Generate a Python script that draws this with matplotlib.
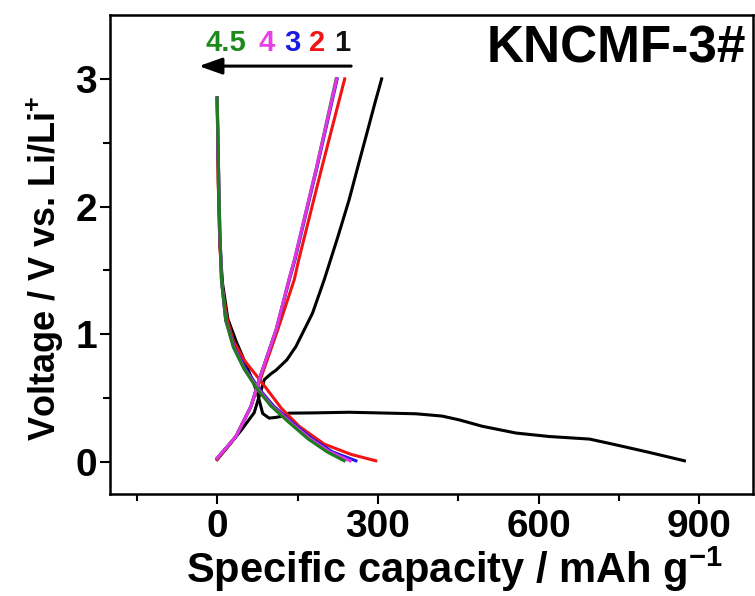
import matplotlib
matplotlib.use("Agg")
import matplotlib.pyplot as plt

plt.rcParams['font.family'] = ['Liberation Sans', 'DejaVu Sans']
plt.rcParams['font.weight'] = 'bold'
plt.rcParams['mathtext.fontset'] = 'custom'
plt.rcParams['mathtext.rm'] = 'Liberation Sans:bold'
plt.rcParams['mathtext.bf'] = 'Liberation Sans:bold'
plt.rcParams['mathtext.it'] = 'Liberation Sans:bold'
plt.rcParams['mathtext.default'] = 'bf'

# ---- data (capacity mAh/g, voltage V) ----
c1_dis_x = [0, 2, 5, 10, 20, 35, 50, 65, 75, 85, 97, 110, 122, 134, 180, 246, 300, 371, 420, 452, 495, 558, 620, 695, 744, 807, 872]
c1_dis_y = [2.85, 2.2, 1.7, 1.4, 1.12, 0.95, 0.8, 0.65, 0.54, 0.38, 0.344, 0.35, 0.36, 0.383, 0.385, 0.39, 0.385, 0.378, 0.36, 0.33, 0.28, 0.227, 0.2, 0.18, 0.135, 0.075, 0.01]
c1_chg_x = [0, 20, 45, 69, 88, 100, 110, 130, 147, 178, 200, 225, 246, 265, 281, 295, 307]
c1_chg_y = [0.02, 0.12, 0.25, 0.386, 0.645, 0.69, 0.72, 0.8, 0.905, 1.166, 1.43, 1.76, 2.05, 2.35, 2.6, 2.82, 3.0]

c2_dis_x = [0, 2, 5, 10, 19, 30, 50, 84, 120, 153, 200, 250, 296]
c2_dis_y = [2.85, 2.2, 1.7, 1.35, 1.11, 0.95, 0.8, 0.62, 0.42, 0.28, 0.14, 0.06, 0.01]
c2_chg_x = [0, 35, 63, 80, 113, 144, 152, 195, 238]
c2_chg_y = [0.02, 0.2, 0.435, 0.64, 1.035, 1.43, 1.58, 2.3, 3.0]

c3_dis_x = [0, 3, 5, 7, 8, 16, 32, 53, 79, 105, 140, 178, 215, 259]
c3_dis_y = [2.85, 2.2, 1.8, 1.58, 1.43, 1.11, 0.9, 0.73, 0.57, 0.44, 0.31, 0.18, 0.08, 0.01]
c3_chg_x = [0, 35, 63, 78, 110, 135, 145, 186, 224]
c3_chg_y = [0.03, 0.2, 0.435, 0.64, 1.035, 1.43, 1.58, 2.3, 3.0]

c4_dis_x = [0, 3, 5, 7, 8, 16, 31, 51, 77, 102, 137, 174, 210, 248]
c4_dis_y = [2.85, 2.2, 1.8, 1.58, 1.43, 1.11, 0.9, 0.73, 0.57, 0.44, 0.31, 0.18, 0.08, 0.01]
c4_chg_x = [0, 35, 63, 78, 110, 134, 144, 185, 223]
c4_chg_y = [0.03, 0.2, 0.435, 0.64, 1.035, 1.43, 1.58, 2.3, 3.0]

c5_dis_x = [0, 3, 5, 7, 8, 16, 30, 50, 75, 100, 134, 170, 205, 237]
c5_dis_y = [2.85, 2.2, 1.8, 1.58, 1.43, 1.11, 0.9, 0.73, 0.57, 0.44, 0.31, 0.18, 0.08, 0.01]
c5_chg_x = [0, 35, 63, 78, 110, 134, 144, 185, 222]
c5_chg_y = [0.03, 0.2, 0.435, 0.64, 1.035, 1.43, 1.58, 2.3, 3.0]

cycle_labels = ["4.5", "4", "3", "2", "1"]
cycle_label_x = [17, 93, 140, 187, 233]
cycle_colors = ["#1e8a1e", "#e640e6", "#1a1ae0", "#f01414", "#111111"]

xticks = [0, 300, 600, 900]
yticks = [0, 1, 2, 3]

black, red, blue, mag, green = "#000000", "#f01414", "#1a1ae0", "#e632e6", "#1e7d1e"

fig = plt.figure(figsize=(7.55, 5.96), dpi=100)
ax = fig.add_axes([110/755, 1-494/596, (753-110)/755, (494-15)/596])

lw = 2.2
ax.plot(c1_dis_x, c1_dis_y, color=black, lw=lw, zorder=1)
ax.plot(c1_chg_x, c1_chg_y, color=black, lw=lw, zorder=1)
ax.plot(c2_dis_x, c2_dis_y, color=red, lw=lw, zorder=2)
ax.plot(c2_chg_x, c2_chg_y, color=red, lw=lw, zorder=2)
ax.plot(c3_dis_x, c3_dis_y, color=blue, lw=lw, zorder=3)
ax.plot(c3_chg_x, c3_chg_y, color=blue, lw=lw, zorder=3)
ax.plot(c4_dis_x, c4_dis_y, color=mag, lw=lw, zorder=3.5)
ax.plot(c5_chg_x, c5_chg_y, color=green, lw=lw, zorder=3.6)
ax.plot(c4_chg_x, c4_chg_y, color=mag, lw=lw, zorder=5)
ax.plot(c5_dis_x, c5_dis_y, color=green, lw=lw, zorder=5)

ax.set_xlim(-200, 1000)
ax.set_ylim(-0.25, 3.5)
ax.set_xticks(xticks)
ax.set_yticks(yticks)
ax.set_xticks([-150, 150, 450, 750], minor=True)
ax.set_yticks([0.5, 1.5, 2.5], minor=True)
ax.tick_params(axis='both', which='major', direction='out', length=7.5, width=1.5,
               labelsize=28, top=False, right=False)
ax.tick_params(axis='both', which='minor', direction='out', length=5, width=1.5,
               top=False, right=False)
ax.tick_params(axis='y', pad=2)
ax.tick_params(axis='x', pad=3)
for lab in ax.get_xticklabels() + ax.get_yticklabels():
    lab.set_fontweight('bold')
for s in ax.spines.values():
    s.set_linewidth(1.8)

ax.set_xlabel("Specific capacity / mAh g$^{-1}$", fontsize=30, fontweight='bold')
ax.xaxis.set_label_coords(0.535, -0.105)
ax.xaxis.label.set_va('top')
ax.set_ylabel("Voltage / V vs. Li/Li$^{+}$", fontsize=26, fontweight='bold')
ax.yaxis.set_label_coords(-0.069, 0.472)

ax.text(0.99, 0.93, "KNCMF-3#", transform=ax.transAxes, ha='right', va='center',
        fontsize=37, fontweight='bold')

for lab, x, c in zip(cycle_labels, cycle_label_x, cycle_colors):
    ax.text(x, 3.28, lab, color=c, ha='center', va='center', fontsize=21, fontweight='bold')

ax.annotate("", xy=(-34, 3.1), xytext=(250, 3.1),
            arrowprops=dict(arrowstyle='-|>,head_length=0.7,head_width=0.25',
                            color='black', lw=2.2, mutation_scale=20,
                            shrinkA=0, shrinkB=0))

fig.savefig("out.png", dpi=100)
